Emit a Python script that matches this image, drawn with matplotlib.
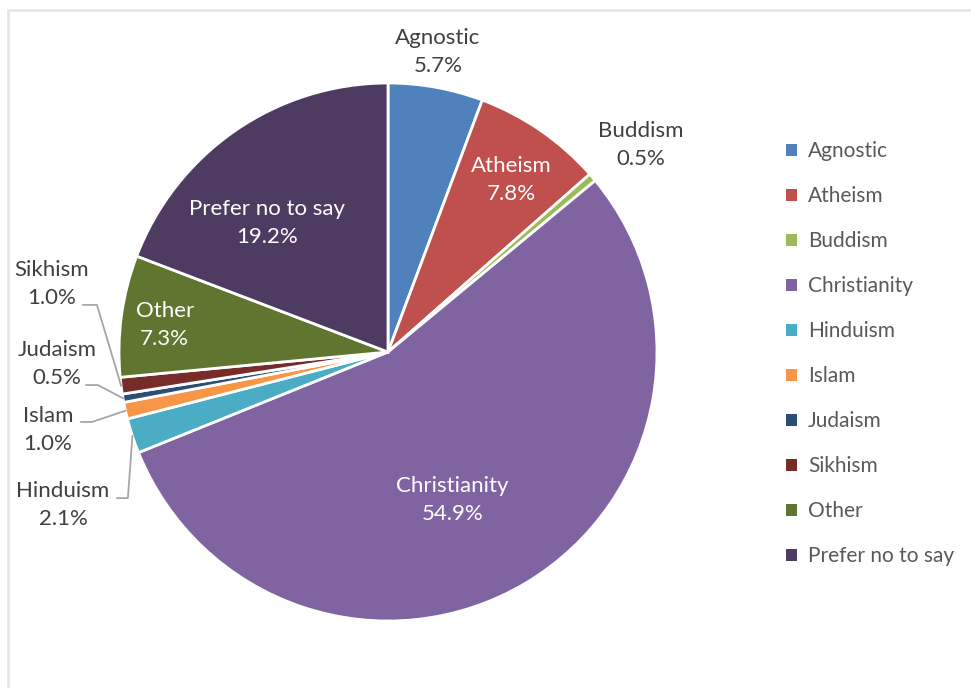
import numpy as np
import matplotlib.pyplot as plt
from matplotlib.patches import Rectangle, Patch

plt.rcParams['font.family'] = ['Lato', 'DejaVu Sans']

# religion breakdown (percent)
labels = ['Agnostic', 'Atheism', 'Buddism', 'Christianity', 'Hinduism',
          'Islam', 'Judaism', 'Sikhism', 'Other', 'Prefer no to say']
values = [5.7, 7.8, 0.5, 54.9, 2.1, 1.0, 0.5, 1.0, 7.3, 19.2]
colors = ['#4F81BD', '#C0504D', '#9BBB59', '#8064A2', '#4BACC6',
          '#F79646', '#2C4D75', '#772C2A', '#5F7530', '#4D3B62']

W, H = 971, 688
fig = plt.figure(figsize=(W / 100, H / 100), dpi=100)

# light frame around the chart area
fig.patches.append(Rectangle((8 / W, -0.05), 1.1, 1 - 10 / H + 0.05,
                             transform=fig.transFigure, fill=False,
                             edgecolor='#E6E6E6', linewidth=2))

cx, cy, R = 388, 352, 269
half = 300
ax = fig.add_axes([(cx - half) / W, (H - cy - half) / H, 2 * half / W, 2 * half / H])

wedges, _ = ax.pie(values, colors=colors, startangle=90, counterclock=False,
                   radius=1.0, wedgeprops=dict(edgecolor='white', linewidth=2))
lim = half / R
ax.set_xlim(-lim, lim)
ax.set_ylim(-lim, lim)
ax.axis('off')

# mid angle of every slice (degrees, matplotlib convention)
cum = np.cumsum([0] + values[:-1])
mid = [90 - 3.6 * (c + v / 2) for c, v in zip(cum, values)]

txt_kw = dict(ha='center', va='center', fontsize=16, linespacing=1.52)

# labels drawn inside the big slices
inside = {'Atheism': (0.46, 0.64), 'Christianity': (0.24, -0.55),
          'Prefer no to say': (-0.45, 0.48), 'Other': (-0.83, 0.10)}
for name, (x, y) in inside.items():
    i = labels.index(name)
    ax.text(x, y, f'{name}\n{values[i]:.1f}%', color='white', **txt_kw)

# labels outside, with leader lines for the small left slices
outside = {'Agnostic': (0.186, 1.115), 'Buddism': (0.94, 0.77),
           'Sikhism': (-1.249, 0.253), 'Judaism': (-1.23, -0.045),
           'Islam': (-1.264, -0.29), 'Hinduism': (-1.208, -0.569)}
for name, (x, y) in outside.items():
    i = labels.index(name)
    ax.text(x, y, f'{name}\n{values[i]:.1f}%', color='#404040', clip_on=False, **txt_kw)

leaders = {'Sikhism': [(-1.133, 0.175), (-1.082, 0.175)],
           'Judaism': [(-1.122, -0.123), (-1.078, -0.123)],
           'Islam': [(-1.141, -0.260), (-1.100, -0.260)],
           'Hinduism': [(-1.007, -0.543), (-0.967, -0.543)]}
for name, pts in leaders.items():
    a = np.radians(mid[labels.index(name)])
    xs = [p[0] for p in pts] + [np.cos(a)]
    ys = [p[1] for p in pts] + [np.sin(a)]
    ax.plot(xs, ys, color='#A6A6A6', linewidth=1.3, clip_on=False)

handles = [Patch(facecolor=c, edgecolor='none') for c in colors]
leg = fig.legend(handles, labels, loc='upper left', bbox_to_anchor=(776 / W, 1 - 131 / H),
                 frameon=False, fontsize=15, handlelength=0.5, handleheight=0.5,
                 handletextpad=0.55, labelspacing=1.2, borderpad=0)
for t in leg.get_texts():
    t.set_color('#595959')

fig.savefig('out.png', dpi=100, facecolor='white')
